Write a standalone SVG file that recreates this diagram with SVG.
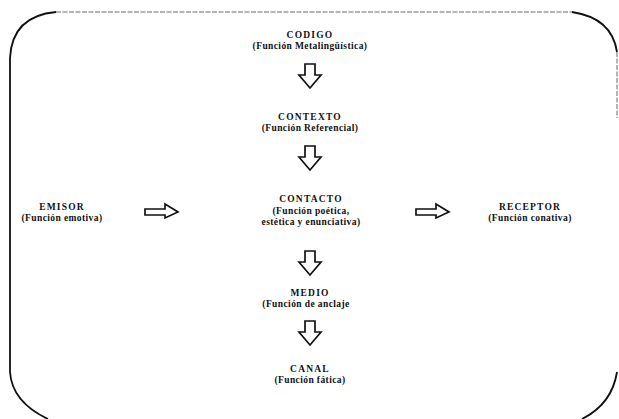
<svg xmlns="http://www.w3.org/2000/svg" width="619" height="419" viewBox="0 0 619 419">
  <style>
    .frame { fill: none; stroke: #111; stroke-width: 1.8; }
    .frame-thin { fill: none; stroke: #444; stroke-width: 0.8; stroke-dasharray: 5 1.5; }
    .title { font-family: "Liberation Serif", "DejaVu Serif", serif; font-size: 9.5px; font-weight: bold; letter-spacing: 1.2px; text-anchor: middle; fill: #111; }
    .sub { font-family: "Liberation Serif", "DejaVu Serif", serif; font-size: 9.5px; font-weight: bold; letter-spacing: 0.4px; text-anchor: middle; fill: #111; }
    .arrow { fill: #fff; stroke: #111; stroke-width: 1.7; stroke-linejoin: miter; }
  </style>
  <defs>
    <!-- hollow block arrow pointing down, origin at top centre -->
    <path id="down" d="M -5 0 H 5 V 11 H 11 L 0 24 L -11 11 H -5 Z"/>
    <!-- hollow block arrow pointing right, origin at left middle -->
    <path id="right" d="M 0 -3 H 20 V -8 L 33 0 L 20 6 V 3 H 0 Z"/>
  </defs>
  <rect width="619" height="419" fill="#fff"/>

  <!-- rounded outer frame, open at the bottom -->
  <g id="frame">
    <path class="frame-thin" d="M 56 12 H 572"/>
    <path class="frame" d="M 56 12 Q 12 16 10 58 V 372 Q 12 402 48 419"/>
    <path class="frame" d="M 572 12 Q 612 18 617 52"/>
    <path class="frame-thin" d="M 617 52 V 118"/>
    <path class="frame" d="M 617 372 Q 612 404 582 419"/>
  </g>

  <g id="connectors">
    <use href="#down" class="arrow" x="310" y="64"/>
    <use href="#down" class="arrow" x="310" y="146"/>
    <use href="#down" class="arrow" x="310" y="251"/>
    <use href="#down" class="arrow" x="310" y="321"/>
    <use href="#right" class="arrow" x="145" y="212"/>
    <use href="#right" class="arrow" x="416" y="212"/>
  </g>

  <g id="codigo">
    <text class="title" x="310" y="38">CODIGO</text>
    <text class="sub" x="310" y="49">(Función Metalingüística)</text>
  </g>
  <g id="contexto">
    <text class="title" x="310" y="120">CONTEXTO</text>
    <text class="sub" x="310" y="131">(Función Referencial)</text>
  </g>
  <g id="contacto">
    <text class="title" x="311" y="202">CONTACTO</text>
    <text class="sub" x="311" y="214">(Función poética,</text>
    <text class="sub" x="311" y="225">estética y enunciativa)</text>
  </g>
  <g id="emisor">
    <text class="title" x="62" y="210">EMISOR</text>
    <text class="sub" x="62" y="221">(Función emotiva)</text>
  </g>
  <g id="receptor">
    <text class="title" x="530" y="210">RECEPTOR</text>
    <text class="sub" x="530" y="221">(Función conativa)</text>
  </g>
  <g id="medio">
    <text class="title" x="310" y="296">MEDIO</text>
    <text class="sub" x="306" y="307">(Función de anclaje</text>
  </g>
  <g id="canal">
    <text class="title" x="310" y="372">CANAL</text>
    <text class="sub" x="310" y="383">(Función fática)</text>
  </g>
</svg>
